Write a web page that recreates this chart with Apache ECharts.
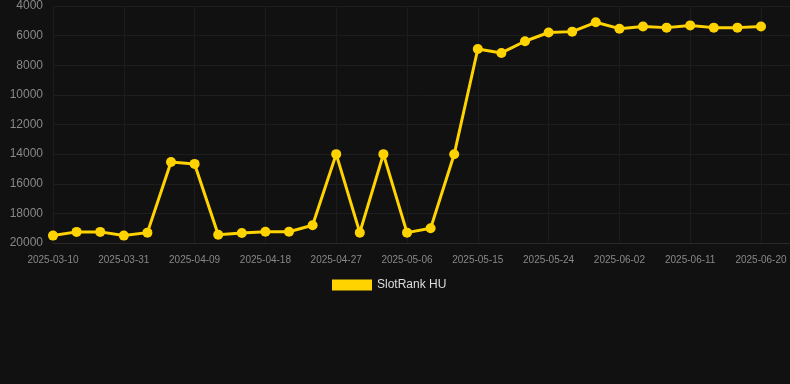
<!DOCTYPE html>
<html><head><meta charset="utf-8">
<script src="https://cdn.jsdelivr.net/npm/echarts@6/dist/echarts.min.js"></script>
<style>html,body{margin:0;padding:0;background:#111111;}#c{width:790px;height:384px;}</style>
</head><body><div id="c"></div>
<script>
var categories = ['2025-03-10','2025-03-17','2025-03-24','2025-03-31','2025-04-03','2025-04-06','2025-04-09','2025-04-12','2025-04-15','2025-04-18','2025-04-21','2025-04-24','2025-04-27','2025-04-30','2025-05-03','2025-05-06','2025-05-09','2025-05-12','2025-05-15','2025-05-18','2025-05-21','2025-05-24','2025-05-27','2025-05-30','2025-06-02','2025-06-05','2025-06-08','2025-06-11','2025-06-14','2025-06-17','2025-06-20'];
var rankValues = [19500,19250,19250,19500,19300,14530,14660,19440,19320,19240,19240,18800,14000,19300,14000,19300,19010,14010,6900,7170,6380,5790,5730,5100,5530,5380,5460,5310,5460,5460,5380];
var yTicks = [4000,6000,8000,10000,12000,14000,16000,18000,20000];
var seriesName = 'SlotRank HU';
var points = rankValues.map(function (v, i) { return [i, v]; });
var chart = echarts.init(document.getElementById('c'));
chart.setOption({
  backgroundColor: '#111111',
  animation: false,
  grid: {left: 53, right: 0, top: 6, bottom: 141},
  legend: {
    data: [seriesName], top: 274, left: 327,
    itemWidth: 40, itemHeight: 11, icon: 'rect', itemGap: 10,
    textStyle: {color: '#dddddd', fontSize: 12, fontFamily: 'Arial, Liberation Sans, sans-serif'}
  },
  xAxis: {
    type: 'value', min: 0, max: (categories.length - 1) * 737 / 708, interval: 3,
    axisLine: {show: true, lineStyle: {color: '#2a2a2a'}},
    axisTick: {show: false},
    axisLabel: {
      color: '#888888', fontSize: 10, margin: 12, showMaxLabel: false,
      fontFamily: 'Arial, Liberation Sans, sans-serif',
      formatter: function (v) { return (Math.abs(v - Math.round(v)) < 1e-6 && categories[Math.round(v)]) ? categories[Math.round(v)] : ''; }
    },
    splitLine: {show: true, lineStyle: {color: '#1c1c1c'}}
  },
  yAxis: {
    type: 'value', inverse: true, min: yTicks[0], max: yTicks[yTicks.length - 1], interval: 2000,
    axisLine: {show: false}, axisTick: {show: false},
    axisLabel: {color: '#888888', fontSize: 12, margin: 10, fontFamily: 'Arial, Liberation Sans, sans-serif',
      formatter: function (v) { return String(v); }},
    splitLine: {lineStyle: {color: '#1e1e1e'}}
  },
  series: [{
    name: seriesName, type: 'line', data: points,
    symbol: 'circle', symbolSize: 10,
    lineStyle: {color: '#FFD300', width: 3},
    itemStyle: {color: '#FFD300'}
  }]
});
</script></body></html>
